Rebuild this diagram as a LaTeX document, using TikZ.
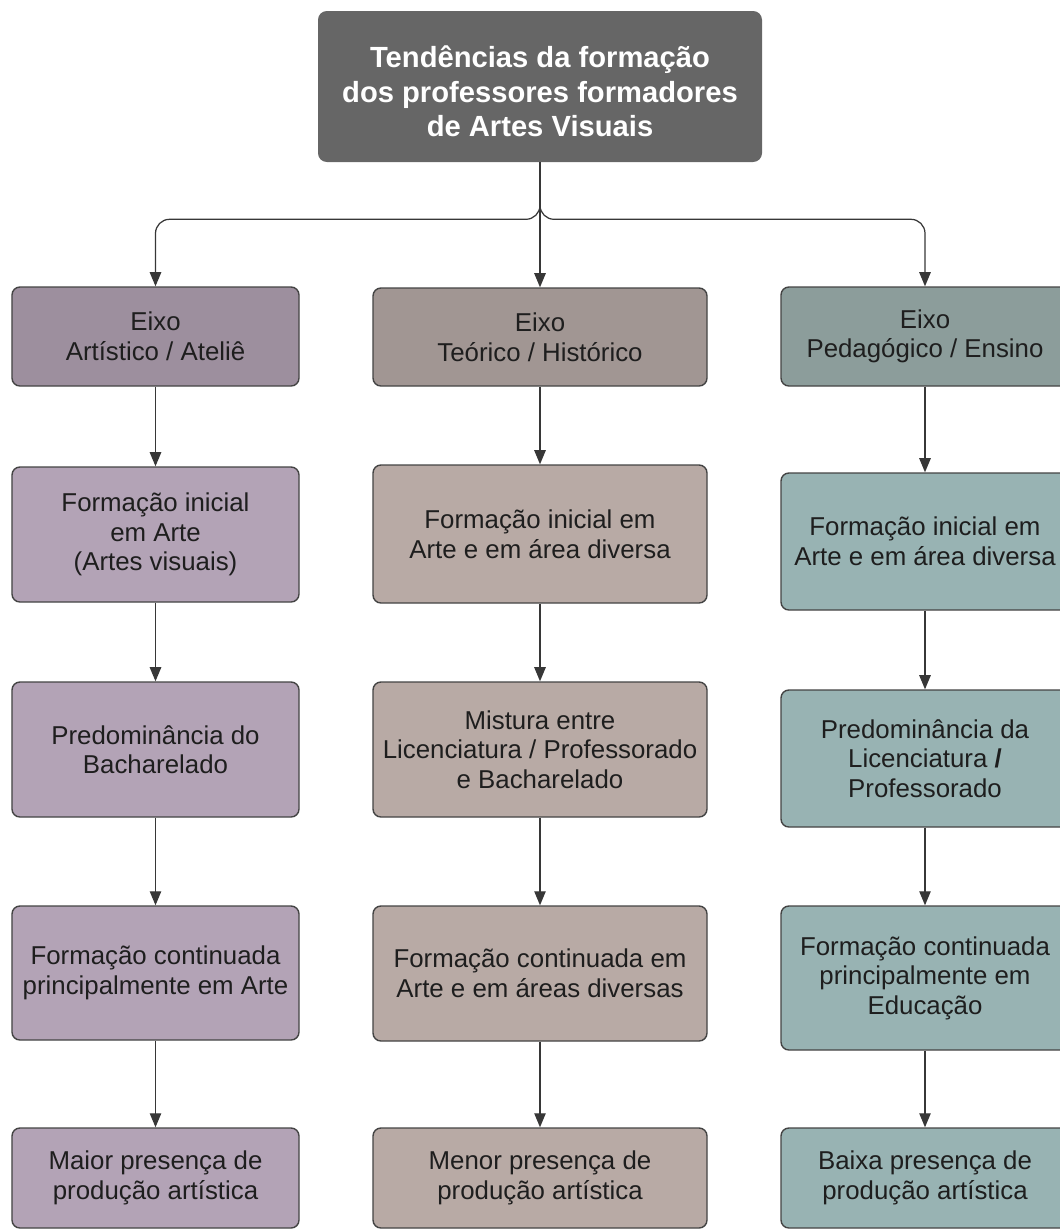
\documentclass[tikz,border=0pt]{standalone}
\usepackage{fontspec}
\setmainfont{Liberation Sans}
\usepackage{xcolor}
\usepackage{tikz}
\definecolor{titlegray}{RGB}{102, 102, 102}
\definecolor{edgegray}{RGB}{68, 68, 68}
\definecolor{arrowgray}{RGB}{55, 55, 55}
\definecolor{textgray}{RGB}{30, 30, 30}
\definecolor{arthead}{RGB}{157, 143, 158}
\definecolor{artbody}{RGB}{179, 163, 182}
\definecolor{teohead}{RGB}{161, 150, 147}
\definecolor{teobody}{RGB}{184, 170, 165}
\definecolor{pedhead}{RGB}{140, 157, 155}
\definecolor{pedbody}{RGB}{152, 179, 179}
\usetikzlibrary{arrows.meta, positioning, calc}

\begin{document}
\begin{tikzpicture}[
        flowarrow/.style={-{Triangle[length=8pt, width=6.5pt]}, line width=0.7pt, draw=arrowgray},
        boxnode/.style={rectangle, rounded corners=4.5pt, draw=edgegray, line width=0.8pt, align=center, text=textgray, font=\fontsize{14.7}{16.8}\selectfont, inner sep=2pt},
        titlenode/.style={rectangle, rounded corners=5pt, fill=titlegray, align=center, text=white, font=\fontsize{16.6}{19.8}\selectfont\bfseries, minimum width=8.88cm, minimum height=3.02cm},
        artbox/.style={boxnode, minimum width=5.74cm},
        teobox/.style={boxnode, minimum width=6.68cm},
        pedbox/.style={boxnode, minimum width=5.76cm}
    ]
        \useasboundingbox (0,0) rectangle (21.2,-24.62);

        % Title
        \node[titlenode] (title) at (10.8,-1.73) {\rule{0pt}{18pt}Tendências da formação\\dos professores formadores\\de Artes Visuais};

        % Eixo artistico
        \node[artbox, fill=arthead, minimum height=1.98cm] (a1) at (3.11,-6.73) {Eixo\\Artístico / Ateliê};
        \node[artbox, fill=artbody, minimum height=2.7cm] (a2) at (3.11,-10.69) {Formação inicial\\em Arte\\(Artes visuais)};
        \node[artbox, fill=artbody, minimum height=2.7cm] (a3) at (3.11,-14.99) {Predominância do\\Bacharelado};
        \node[artbox, fill=artbody, minimum height=2.68cm] (a4) at (3.11,-19.46) {Formação continuada\\principalmente em Arte};
        \node[artbox, fill=artbody, minimum height=2.0cm] (a5) at (3.11,-23.56) {Maior presença de\\produção artística};

        % Eixo teorico
        \node[teobox, fill=teohead, minimum height=1.96cm] (t1) at (10.8,-6.74) {Eixo\\Teórico / Histórico};
        \node[teobox, fill=teobody, minimum height=2.76cm] (t2) at (10.8,-10.68) {Formação inicial em\\Arte e em área diversa};
        \node[teobox, fill=teobody, minimum height=2.7cm] (t3) at (10.8,-14.99) {Mistura entre\\Licenciatura / Professorado\\e Bacharelado};
        \node[teobox, fill=teobody, minimum height=2.7cm] (t4) at (10.8,-19.47) {Formação continuada em\\Arte e em áreas diversas};
        \node[teobox, fill=teobody, minimum height=2.0cm] (t5) at (10.8,-23.56) {Menor presença de\\produção artística};

        % Eixo pedagogico
        \node[pedbox, fill=pedhead, minimum height=1.98cm] (p1) at (18.5,-6.73) {Eixo\\Pedagógico / Ensino};
        \node[pedbox, fill=pedbody, minimum height=2.74cm] (p2) at (18.5,-10.83) {Formação inicial em\\Arte e em área diversa};
        \node[pedbox, fill=pedbody, minimum height=2.74cm] (p3) at (18.5,-15.17) {Predominância da\\Licenciatura \textbf{/}\\Professorado};
        \node[pedbox, fill=pedbody, minimum height=2.88cm] (p4) at (18.5,-19.56) {Formação continuada\\principalmente em\\Educação};
        \node[pedbox, fill=pedbody, minimum height=2.0cm] (p5) at (18.5,-23.56) {Baixa presença de\\produção artística};

        % Branches
        \draw[flowarrow] (title) -- (t1);
        \draw[flowarrow, rounded corners=8pt] (title.south) |- ([yshift=1.34cm]a1.north) -- (a1.north);
        \draw[flowarrow, rounded corners=8pt] (title.south) |- ([yshift=1.34cm]p1.north) -- (p1.north);

        % Arrows
        \draw[flowarrow] (a1) -- (a2);
        \draw[flowarrow] (a2) -- (a3);
        \draw[flowarrow] (a3) -- (a4);
        \draw[flowarrow] (a4) -- (a5);
        \draw[flowarrow] (t1) -- (t2);
        \draw[flowarrow] (t2) -- (t3);
        \draw[flowarrow] (t3) -- (t4);
        \draw[flowarrow] (t4) -- (t5);
        \draw[flowarrow] (p1) -- (p2);
        \draw[flowarrow] (p2) -- (p3);
        \draw[flowarrow] (p3) -- (p4);
        \draw[flowarrow] (p4) -- (p5);
    \end{tikzpicture}
\end{document}
